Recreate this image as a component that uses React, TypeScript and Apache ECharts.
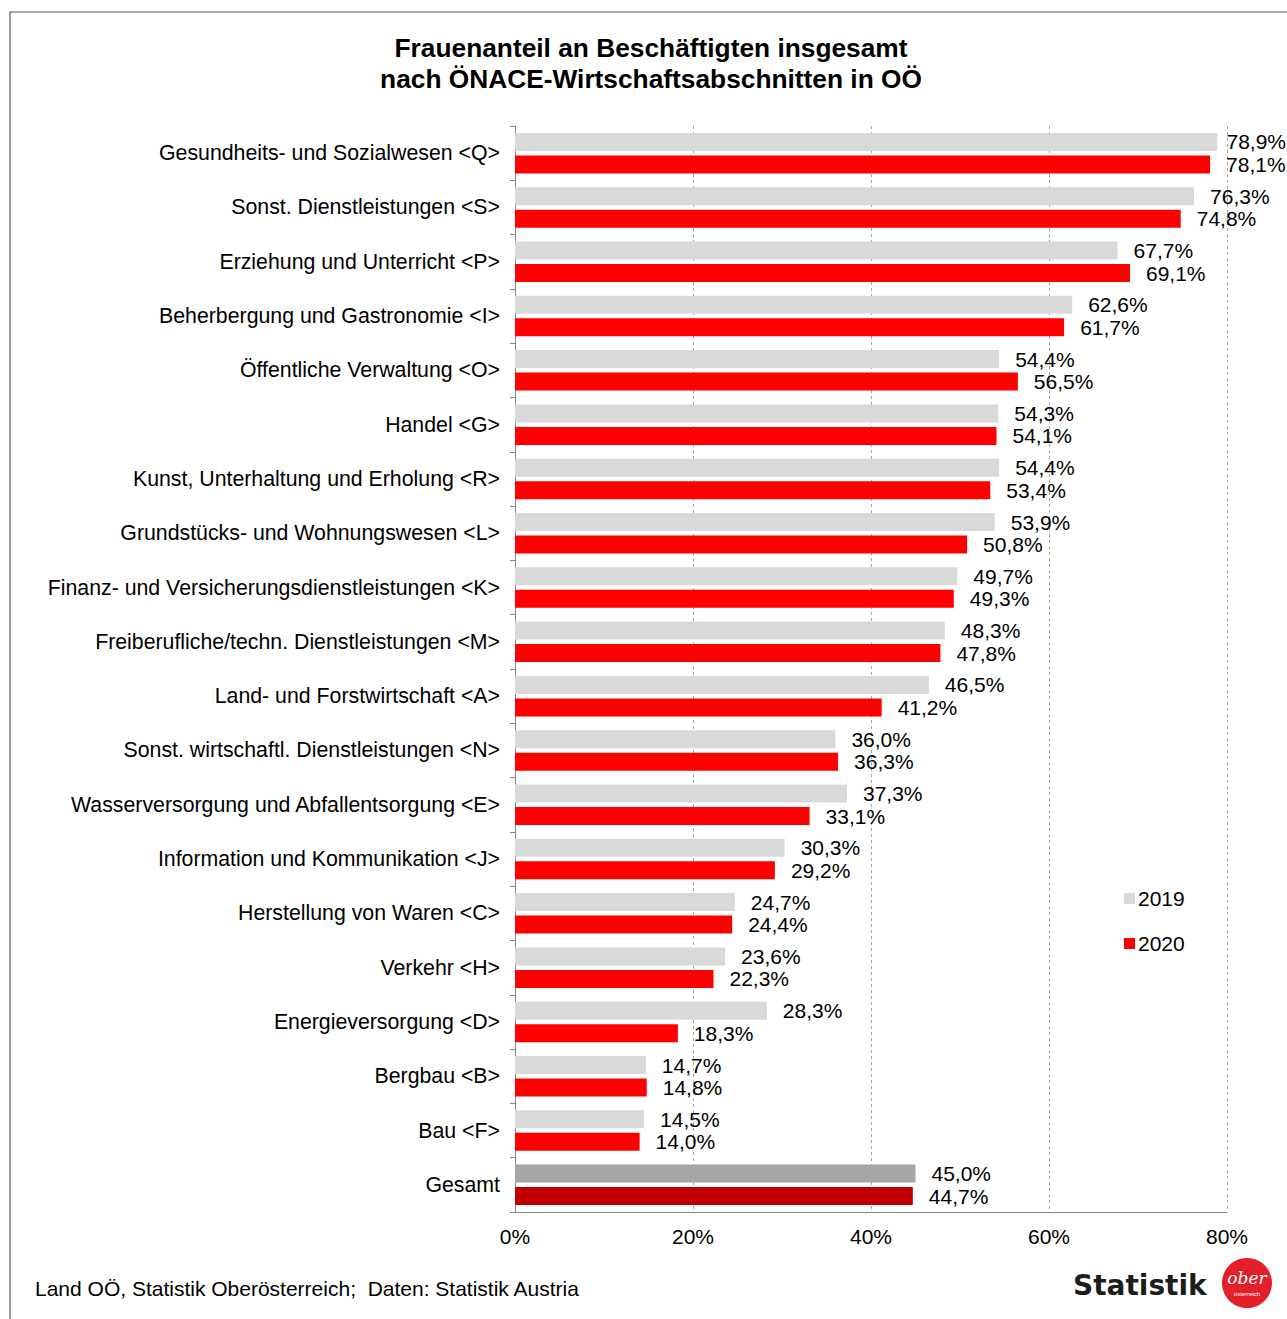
import React, { useEffect, useRef } from "react";
import * as echarts from "echarts";

const categories = [
  "Gesundheits- und Sozialwesen <Q>",
  "Sonst. Dienstleistungen <S>",
  "Erziehung und Unterricht <P>",
  "Beherbergung und Gastronomie <I>",
  "Öffentliche Verwaltung <O>",
  "Handel <G>",
  "Kunst, Unterhaltung und Erholung <R>",
  "Grundstücks- und Wohnungswesen <L>",
  "Finanz- und Versicherungsdienstleistungen <K>",
  "Freiberufliche/techn. Dienstleistungen <M>",
  "Land- und Forstwirtschaft <A>",
  "Sonst. wirtschaftl. Dienstleistungen <N>",
  "Wasserversorgung und Abfallentsorgung <E>",
  "Information und Kommunikation <J>",
  "Herstellung von Waren <C>",
  "Verkehr <H>",
  "Energieversorgung <D>",
  "Bergbau <B>",
  "Bau <F>",
  "Gesamt",
];

const values2019 = [78.9, 76.3, 67.7, 62.6, 54.4, 54.3, 54.4, 53.9, 49.7, 48.3, 46.5, 36.0, 37.3, 30.3, 24.7, 23.6, 28.3, 14.7, 14.5, 45.0];
const values2020 = [78.1, 74.8, 69.1, 61.7, 56.5, 54.1, 53.4, 50.8, 49.3, 47.8, 41.2, 36.3, 33.1, 29.2, 24.4, 22.3, 18.3, 14.8, 14.0, 44.7];

const seriesNames = ["2019", "2020"];
const xTicks = [0, 20, 40, 60, 80];

const FONT = '"Liberation Sans", Arial, sans-serif';

const fmt = (v: number) => v.toFixed(1).replace(".", ",") + "%";

export default function App() {
  const ref = useRef<HTMLDivElement>(null);
  useEffect(() => {
    if (!ref.current) return;
    const chart = echarts.init(ref.current, undefined, { renderer: "svg" });
    const mk = (vals: number[], totalColor: string) =>
      vals.map((v, i) =>
        categories[i] === "Gesamt" ? { value: v, itemStyle: { color: totalColor } } : { value: v }
      );
    const labelCfg = {
      show: true,
      position: "right",
      distance: 16,
      color: "#000",
      fontSize: 21,
      fontFamily: FONT,
      formatter: (p: any) => fmt(p.value),
    };
    chart.setOption({
      animation: false,
      backgroundColor: "#fff",
      textStyle: { fontFamily: FONT },
      grid: { left: 515, right: 60, top: 126, bottom: 107, containLabel: false },
      legend: {
        orient: "vertical",
        left: 1119,
        top: 883,
        itemWidth: 11,
        itemHeight: 11,
        itemGap: 24,
        icon: "rect",
        data: seriesNames,
        textStyle: { fontSize: 21, fontFamily: FONT, color: "#000", padding: [0, 0, 0, -2] },
      },
      labelLayout: (params: any) => {
        const r = params.labelRect;
        const overflow = r.x + r.width - 1286;
        if (overflow > 0) return { dx: -overflow };
        return {};
      },
      xAxis: {
        type: "value",
        min: xTicks[0],
        max: xTicks[xTicks.length - 1],
        interval: 20,
        axisLine: { show: true, lineStyle: { color: "#868686" } },
        axisTick: { show: false },
        axisLabel: {
          formatter: "{value}%",
          fontSize: 21,
          color: "#000",
          fontFamily: FONT,
          margin: 14,
        },
        splitLine: { show: true, lineStyle: { type: [3, 3], color: "#a6a6a6" } },
      },
      yAxis: {
        type: "category",
        inverse: true,
        data: categories,
        axisLine: { show: true, lineStyle: { color: "#868686" } },
        axisTick: { show: true, length: 5, lineStyle: { color: "#868686" } },
        axisLabel: { fontSize: 21.3, color: "#000", fontFamily: FONT, margin: 15, padding: [0, 0, 2, 0] },
      },
      series: [
        {
          name: seriesNames[0],
          type: "bar",
          data: mk(values2019, "#a6a6a6"),
          itemStyle: { color: "#d9d9d9" },
          barWidth: 18,
          barGap: "25%",
          label: labelCfg,
        },
        {
          name: seriesNames[1],
          type: "bar",
          data: mk(values2020, "#c00000"),
          itemStyle: { color: "#ff0000" },
          barWidth: 18,
          label: labelCfg,
        },
      ],
      graphic: [
        {
          type: "rect",
          shape: { x: 10, y: 12, width: 1400, height: 1400 },
          style: { fill: "none", stroke: "#595959", lineWidth: 1.2 },
          silent: true,
        },
        {
          type: "text",
          x: 651,
          y: 32,
          style: {
            text: "Frauenanteil an Beschäftigten insgesamt\nnach ÖNACE-Wirtschaftsabschnitten in OÖ",
            font: `bold 26.3px ${FONT}`,
            fill: "#000",
            align: "center",
            verticalAlign: "top",
            lineHeight: 31,
          },
        },
        {
          type: "text",
          x: 35,
          y: 1288,
          style: {
            text: "Land OÖ, Statistik Oberösterreich;  Daten: Statistik Austria",
            font: `21px ${FONT}`,
            fill: "#000",
            align: "left",
            verticalAlign: "middle",
          },
        },
        {
          type: "text",
          x: 1073,
          y: 1285,
          style: {
            text: "Statistik",
            font: `bold 28px "DejaVu Sans", sans-serif`,
            fill: "#1d1d1b",
            align: "left",
            verticalAlign: "middle",
          },
        },
        {
          type: "circle",
          shape: { cx: 1247, cy: 1283, r: 25 },
          style: { fill: "#e3202a" },
        },
        {
          type: "text",
          x: 1247,
          y: 1278,
          style: {
            text: "ober",
            font: `italic 17px "DejaVu Serif", serif`,
            fill: "#fff",
            align: "center",
            verticalAlign: "middle",
          },
        },
        {
          type: "text",
          x: 1247,
          y: 1294,
          style: {
            text: "österreich",
            font: `6px ${FONT}`,
            fill: "#fff",
            align: "center",
            verticalAlign: "middle",
          },
        },
      ],
    });
    return () => chart.dispose();
  }, []);
  return (
    <div
      ref={ref}
      style={{ position: "absolute", left: 0, top: 0, width: 1287, height: 1319 }}
    />
  );
}
